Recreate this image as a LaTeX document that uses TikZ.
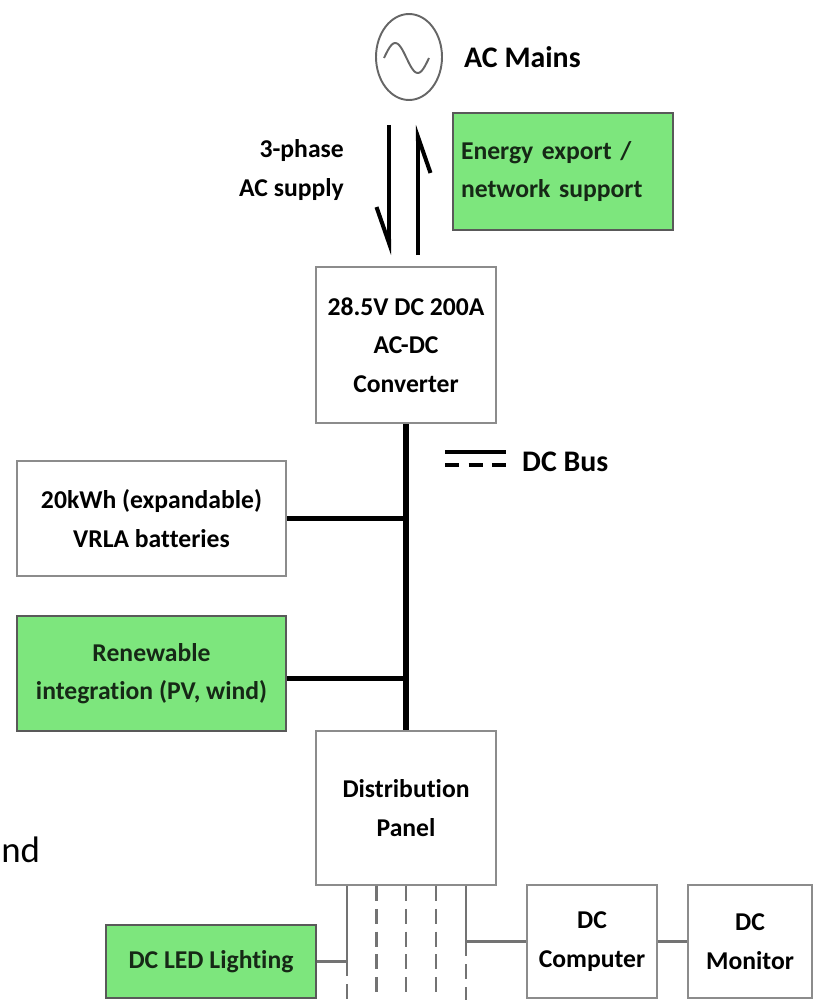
\documentclass[tikz,border=0pt]{standalone}
\usepackage{fontspec}
\setmainfont{Carlito}[Ligatures=NoCommon]
\usepackage{xcolor}
\usepackage{tikz}
\usetikzlibrary{arrows.meta, positioning, calc, shapes.geometric}

\definecolor{litegreen}{RGB}{125,230,125}
\definecolor{darkgreen}{RGB}{22,40,22}
\newcommand{\boxfont}{\fontsize{14.6}{22}\selectfont\bfseries}
\newcommand{\titlefont}{\fontsize{17}{20}\selectfont\bfseries}

\begin{document}
\begin{tikzpicture}[
    x=0.02cm, y=-0.02cm,
    box/.style={rectangle,draw=black!45,line width=1.1pt,fill=white,font=\boxfont,align=center,inner sep=0pt},
    greenbox/.style={box,draw=black!65,fill=litegreen,text=darkgreen},
    bus/.style={line width=3.4pt},
    wire/.style={draw=black!55,line width=1.2pt},
    feeder/.style={wire,dash pattern=on 8.5pt off 4.5pt},
    harpoon/.style={line width=2.3pt,-{Straight Barb[right,length=0.72cm,width=0.5cm]}},
    legendline/.style={line width=2.8pt}
]
\useasboundingbox (0,0) rectangle (815,1000);
\clip (0,0) rectangle (815,1000);

%--------------------------------------------------------------------
% Top: AC mains and the grid link
%--------------------------------------------------------------------
\node[ellipse,draw=black!60,line width=1.1pt,minimum width=1.32cm,minimum height=1.72cm] (mains) at (409,57) {};
\draw[black!60,line width=1.1pt] plot[domain=0:360,samples=40] ({384+\x/360*45},{58-15*sin(\x)});
\node[font=\titlefont,anchor=west] (mainslabel) at (458,57) {AC Mains};

\node[font=\boxfont,align=right,anchor=east] (supply) at (350,170) {3-phase\\AC supply};

\node[greenbox,minimum width=4.4cm,minimum height=2.34cm,text width=4.08cm,align=left] (export) at (563,171.5) {Energy export /\\network support};

\node[box,minimum width=3.6cm,minimum height=3.12cm] (conv) at (406,345) {28.5V DC 200A\\AC-DC\\Converter};

% supply and export arrows
\coordinate (dntop) at (389,125);
\coordinate (dnbot) at (389,255);
\coordinate (uptop) at (418,125);
\coordinate (upbot) at (418,255);
\draw[harpoon] (dntop) -- (dnbot);
\draw[harpoon] (upbot) -- (uptop);

%--------------------------------------------------------------------
% Middle: DC bus with storage and renewables
%--------------------------------------------------------------------
\node[font=\titlefont,anchor=west] (buslabel) at (516,462) {DC Bus};
\draw[legendline] ($(buslabel.west)+(-71,-10)$) -- ++(61,0);
\draw[legendline,dash pattern=on 0.28cm off 0.19cm] ($(buslabel.west)+(-71,3)$) -- ++(61,0);

\node[box,minimum width=5.38cm,minimum height=2.3cm] (batt) at (151.5,518.5) {20kWh (expandable)\\VRLA batteries};
\node[greenbox,minimum width=5.38cm,minimum height=2.3cm] (renew) at (151.5,673.5) {Renewable\\integration (PV, wind)};

\node[box,minimum width=3.6cm,minimum height=3.08cm] (panel) at (406,808) {Distribution\\Panel};

\draw[bus] (conv.south) -- (panel.north);
\draw[bus] (batt.east) -- (batt.east -| conv.south);
\draw[bus] ([yshift=-0.1cm]renew.east) -- ([yshift=-0.1cm]renew.east -| conv.south);

\node[font=\fontsize{21}{24}\selectfont,anchor=base west,inner sep=0pt] (nd) at (1,862) {nd};

%--------------------------------------------------------------------
% Bottom: DC loads on the panel feeders
%--------------------------------------------------------------------
\node[greenbox,minimum width=4.2cm,minimum height=1.46cm] (led) at (211,961.5) {DC LED Lighting};
\node[box,minimum width=2.6cm,minimum height=2.26cm] (comp) at (592,941.5) {DC\\Computer};
\node[box,minimum width=2.48cm,minimum height=2.26cm] (mon) at (750,941.5) {DC\\Monitor};

\path (panel.south) ++(-59,0) coordinate (f1) ++(29.5,0) coordinate (f2)
      ++(29.5,0) coordinate (f3) ++(30,0) coordinate (f4) ++(30,0) coordinate (f5);
\coordinate (bot) at (0,1010);

\draw[wire] (f1) -- (f1 |- led.east) coordinate (ledtap);
\draw[feeder] (ledtap) -- (f1 |- bot);
\draw[wire] (f5) -- (f5 |- comp.west) coordinate (comptap);
\draw[feeder] (comptap) -- (f5 |- bot);
\foreach \f in {f2,f3,f4}
  \draw[feeder] (\f) -- (\f |- bot);

\draw[wire] (led.east) -- (ledtap);
\draw[wire] (comptap) -- (comp.west);
\draw[wire] (comp.east) -- (mon.west);

\end{tikzpicture}
\end{document}
